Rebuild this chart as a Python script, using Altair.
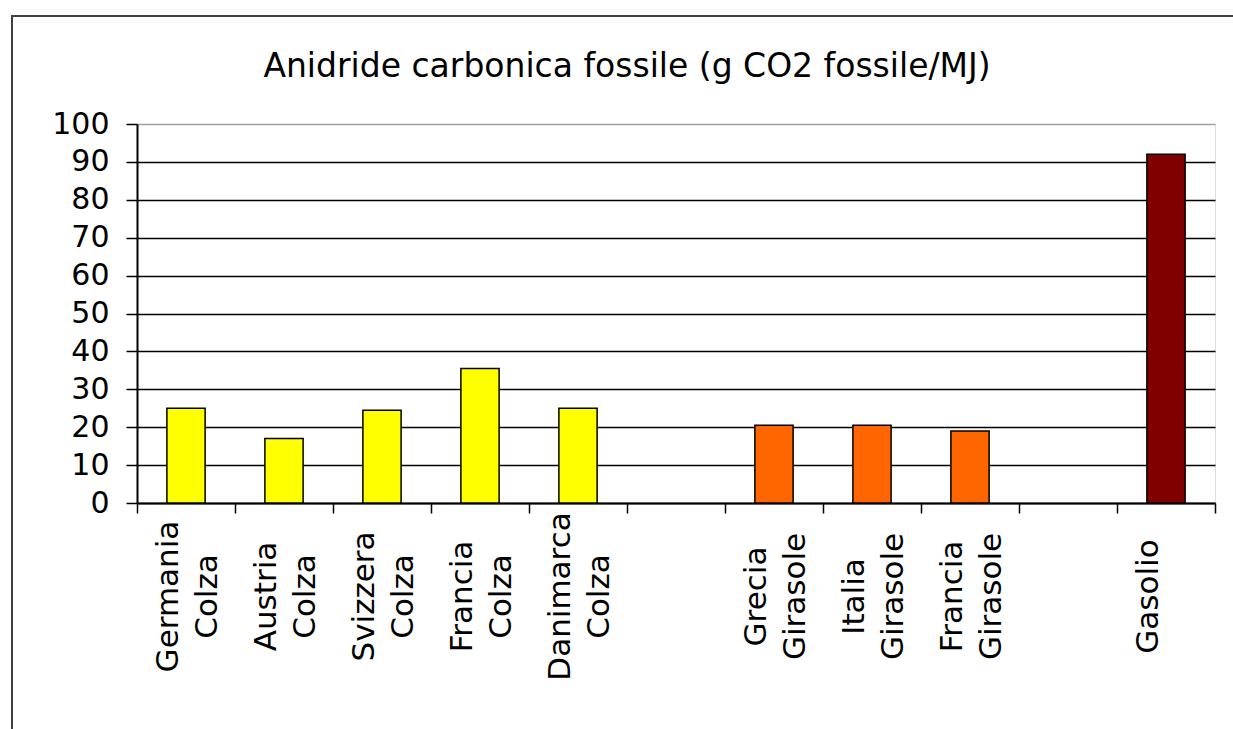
import altair as alt
import pandas as pd

# Categories (the two blank entries are the gaps between groups)
categories = ["Germania|Colza", "Austria|Colza", "Svizzera|Colza", "Francia|Colza",
              "Danimarca|Colza", " ", "Grecia|Girasole", "Italia|Girasole",
              "Francia|Girasole", "  ", "Gasolio"]
values = [25, 17, 24.5, 35.5, 25, None, 20.5, 20.5, 19, None, 92]
groups = ["Colza", "Colza", "Colza", "Colza", "Colza", None,
          "Girasole", "Girasole", "Girasole", None, "Gasolio"]
group_names = ["Colza", "Girasole", "Gasolio"]
group_colors = ["#FFFF00", "#FF6600", "#800000"]
y_ticks = [0, 10, 20, 30, 40, 50, 60, 70, 80, 90, 100]
title_text = "Anidride carbonica fossile (g CO2 fossile/MJ)"

rows = [{"cat": c, "val": v, "grp": g}
        for c, v, g in zip(categories, values, groups) if v is not None]
df = pd.DataFrame(rows)

FONT = "DejaVu Sans"

bars = alt.Chart(df).mark_bar(
    width={"band": 0.39}, stroke="black", strokeWidth=1.5
).encode(
    x=alt.X("cat:N", sort=categories,
            scale=alt.Scale(domain=categories, paddingInner=0, paddingOuter=0),
            axis=alt.Axis(title=None, labelExpr="split(datum.label, '|')",
                          labelAngle=270, labelAlign="center", labelBaseline="middle",
                          labelPadding=83, labelLineHeight=39, labelLimit=0,
                          labelOffset=-18,
                          labelFont=FONT, labelFontSize=31, labelColor="black",
                          tickBand="extent", tickSize=10, tickColor="black", tickWidth=1.5,
                          domainColor="black", domainWidth=2, grid=False)),
    y=alt.Y("val:Q", scale=alt.Scale(domain=[0, 100], nice=False),
            axis=alt.Axis(title=None, values=y_ticks, labelFont=FONT, labelFontSize=30,
                          labelColor="black", labelPadding=17, tickSize=11,
                          tickColor="black", tickWidth=1.5, domainColor="black",
                          domainWidth=2, grid=True, gridWidth=1.5,
                          gridColor={"condition": {"test": "datum.value === 100",
                                                   "value": "#a0a0a0"},
                                     "value": "black"})),
    color=alt.Color("grp:N", scale=alt.Scale(domain=group_names, range=group_colors),
                    legend=None),
)

frame = alt.Chart(alt.Data(values=[{}])).mark_rect(
    fill=None, stroke="#404040", strokeWidth=2
).encode(
    x=alt.value(-125), x2=alt.value(1120), y=alt.value(-108), y2=alt.value(640)
)

chart = alt.layer(frame, bars).properties(
    width=1078, height=379,
    autosize="none",
    padding={"left": 137, "top": 124, "right": 18, "bottom": 226},
    title=alt.TitleParams(title_text, font=FONT, fontSize=33, fontWeight="normal",
                          color="black", anchor="middle", frame="group", dx=-49,
                          baseline="alphabetic", offset=-95),
).configure_view(
    stroke="#a0a0a0", strokeWidth=2, fill="white"
).configure(background="white")

chart.save("out.html", embed_options={"renderer": "svg", "actions": False})
